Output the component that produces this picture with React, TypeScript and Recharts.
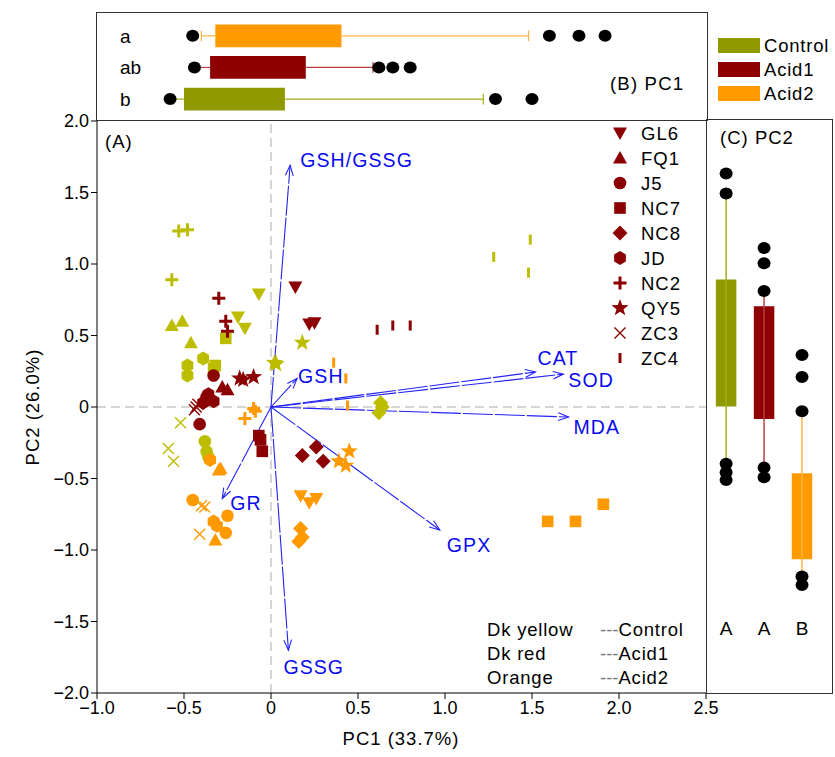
import React from 'react';
import { ScatterChart, Scatter, XAxis, YAxis, ReferenceLine, ReferenceArea } from 'recharts';

const FONT = "'Liberation Sans', Arial, sans-serif";
const BLUE = '#2323F5';

// ---------- groups ----------
const groups = ['Control', 'Acid1', 'Acid2'];
const groupNames = ['Dk yellow', 'Dk red', 'Orange'];
const pointColors = ['#BDBD00', '#8B0000', '#FF9900'];
const boxColors = ['#8E9A00', '#900000', '#FF9A00'];
const whiskerColors = ['#A5AC10', '#B84040', '#FFB440'];

// ---------- genotypes ----------
const genotypes = ['GL6', 'FQ1', 'J5', 'NC7', 'NC8', 'JD', 'NC2', 'QY5', 'ZC3', 'ZC4'];
const markerKinds = ['triDown', 'triUp', 'circle', 'square', 'diamond', 'hexagon', 'plus', 'star', 'cross', 'bar'];

// PC scores [PC1, PC2]; per genotype: [Control reps, Acid1 reps, Acid2 reps]
const GL6 = [
  [[-0.07, 0.79], [-0.19, 0.63], [-0.15, 0.55]],
  [[0.14, 0.84], [0.22, 0.58], [0.25, 0.59]],
  [[0.17, -0.62], [0.22, -0.67], [0.26, -0.64]],
];
const FQ1 = [
  [[-0.57, 0.57], [-0.51, 0.6], [-0.46, 0.45]],
  [[-0.28, 0.14], [-0.25, 0.12], [-0.34, 0.05]],
  [[-0.29, -0.43], [-0.32, -0.93], [-0.3, -0.44]],
];
const J5 = [
  [[-0.38, -0.24], [-0.37, -0.31], [-0.36, -0.35]],
  [[-0.33, 0.22], [-0.41, -0.12], [-0.37, 0.07]],
  [[-0.45, -0.65], [-0.25, -0.76], [-0.26, -0.88]],
];
const NC7 = [
  [[-0.26, 0.48], [-0.32, 0.29], [-0.33, 0.27]],
  [[-0.07, -0.2], [-0.06, -0.23], [-0.05, -0.31]],
  [[1.59, -0.8], [1.75, -0.8], [1.91, -0.68]],
];
const NC8 = [
  [[0.63, 0.03], [0.64, 0.0], [0.62, -0.04]],
  [[0.18, -0.34], [0.26, -0.28], [0.3, -0.38]],
  [[0.17, -0.85], [0.18, -0.91], [0.16, -0.94]],
];
const JD = [
  [[-0.39, 0.34], [-0.48, 0.29], [-0.48, 0.22]],
  [[-0.36, 0.09], [-0.33, 0.04], [-0.39, 0.03]],
  [[-0.35, -0.37], [-0.33, -0.8], [-0.31, -0.83]],
];
const NC2 = [
  [[-0.53, 1.23], [-0.48, 1.24], [-0.57, 0.89]],
  [[-0.3, 0.76], [-0.26, 0.6], [-0.25, 0.53]],
  [[-0.15, -0.08], [-0.1, -0.01], [-0.09, -0.03]],
];
const QY5 = [
  [[0.18, 0.45], [0.02, 0.31], [0.03, 0.3]],
  [[-0.18, 0.2], [-0.1, 0.21], [-0.16, 0.19]],
  [[0.45, -0.31], [0.39, -0.38], [0.43, -0.41]],
];
const ZC3 = [
  [[-0.52, -0.11], [-0.59, -0.29], [-0.56, -0.38]],
  [[-0.44, -0.02], [-0.42, 0.02], [-0.43, 0.0]],
  [[-0.4, -0.69], [-0.38, -0.7], [-0.41, -0.89]],
];
const ZC4 = [
  [[1.49, 1.17], [1.28, 1.05], [1.48, 0.94]],
  [[0.61, 0.54], [0.7, 0.57], [0.8, 0.57]],
  [[0.36, 0.31], [0.43, 0.2], [0.44, 0.01]],
];
const scores = [GL6, FQ1, J5, NC7, NC8, JD, NC2, QY5, ZC3, ZC4];

// ---------- loadings (arrows) ----------
const loadNames = ['GSH/GSSG', 'GSH', 'CAT', 'SOD', 'MDA', 'GPX', 'GR', 'GSSG'];
const loadPC1 = [0.11, 0.15, 1.52, 1.68, 1.71, 0.97, -0.28, 0.1];
const loadPC2 = [1.69, 0.2, 0.245, 0.23, -0.07, -0.86, -0.64, -1.7];
// label offsets in px from arrow tip (style)
const loadLabelOffset: Record<string, [number, number]> = {
  'GSH/GSSG': [10, -5], GSH: [1, -2], CAT: [2, -14], SOD: [5, 6],
  MDA: [5, 10], GPX: [7, 15], GR: [8, 4], GSSG: [-5, 17],
};

// ---------- axes ----------
const xTicks = [-1, -0.5, 0, 0.5, 1, 1.5, 2, 2.5];
const xTickLabels = ['−1.0', '−0.5', '0', '0.5', '1.0', '1.5', '2.0', '2.5'];
const yTicks = [-2, -1.5, -1, -0.5, 0, 0.5, 1, 1.5, 2];
const yTickLabels = ['−2.0', '−1.5', '−1.0', '−0.5', '0', '0.5', '1.0', '1.5', '2.0'];

// ---------- PC1 boxplot (rows: Control=1, Acid1=2, Acid2=3) ----------
const pc1Low = [-0.56, -0.425, -0.4];
const pc1Q1 = [-0.5, -0.35, -0.32];
const pc1Q3 = [0.08, 0.2, 0.405];
const pc1High = [1.22, 0.586, 1.48];
const pc1Outliers = [[-0.58, 1.29, 1.5], [-0.44, 0.62, 0.7, 0.8], [-0.45, 1.6, 1.77, 1.92]];
const pc1Letters = ['b', 'ab', 'a'];

// ---------- PC2 boxplot (columns: Control=1, Acid1=2, Acid2=3) ----------
const pc2Low = [-0.6, -0.62, -1.78];
const pc2Q1 = [0.0, -0.13, -1.6];
const pc2Q3 = [1.33, 1.05, -0.7];
const pc2High = [2.23, 1.21, -0.05];
const pc2Outliers = [[2.44, 2.23, -0.6, -0.69, -0.77], [1.66, 1.5, 1.21, -0.64, -0.74], [0.54, 0.31, -0.05, -1.78, -1.87]];
const pc2Letters = ['A', 'A', 'B'];

function Marker({ kind, cx, cy, color }: { kind: string; cx: number; cy: number; color: string }) {
  switch (kind) {
    case 'triDown':
      return <polygon points={`${cx - 7},${cy - 5.5} ${cx + 7},${cy - 5.5} ${cx},${cy + 7}`} fill={color} />;
    case 'triUp':
      return <polygon points={`${cx - 7},${cy + 5.5} ${cx + 7},${cy + 5.5} ${cx},${cy - 7}`} fill={color} />;
    case 'circle':
      return <circle cx={cx} cy={cy} r={6.3} fill={color} />;
    case 'square':
      return <rect x={cx - 5.8} y={cy - 5.8} width={11.6} height={11.6} fill={color} />;
    case 'diamond':
      return <polygon points={`${cx},${cy - 7.5} ${cx + 7.5},${cy} ${cx},${cy + 7.5} ${cx - 7.5},${cy}`} fill={color} />;
    case 'hexagon': {
      const pts = [0, 1, 2, 3, 4, 5]
        .map((k) => {
          const a = (Math.PI / 180) * (-90 + 60 * k);
          return `${cx + 6.8 * Math.cos(a)},${cy + 7 * Math.sin(a)}`;
        })
        .join(' ');
      return <polygon points={pts} fill={color} />;
    }
    case 'plus':
      return <path d={`M${cx - 6.5},${cy}H${cx + 6.5}M${cx},${cy - 6.5}V${cy + 6.5}`} stroke={color} strokeWidth={3} fill="none" />;
    case 'star': {
      const pts = Array.from({ length: 10 })
        .map((_, k) => {
          const r = k % 2 === 0 ? 9 : 3.7;
          const a = (Math.PI / 180) * (-90 + 36 * k);
          return `${cx + r * Math.cos(a)},${cy + r * Math.sin(a)}`;
        })
        .join(' ');
      return <polygon points={pts} fill={color} />;
    }
    case 'cross':
      return <path d={`M${cx - 5.5},${cy - 5.5}L${cx + 5.5},${cy + 5.5}M${cx + 5.5},${cy - 5.5}L${cx - 5.5},${cy + 5.5}`} stroke={color} strokeWidth={1.4} fill="none" />;
    case 'bar':
      return <rect x={cx - 1.5} y={cy - 5} width={3} height={10} fill={color} />;
    default:
      return <circle cx={cx} cy={cy} r={5} fill={color} />;
  }
}

const arrowShape = (name: string) => (p: any) => {
  const { x1, y1, x2, y2 } = p;
  const ang = Math.atan2(y2 - y1, x2 - x1);
  const L = 11;
  const a = 0.36;
  const h1x = x2 - L * Math.cos(ang - a);
  const h1y = y2 - L * Math.sin(ang - a);
  const h2x = x2 - L * Math.cos(ang + a);
  const h2y = y2 - L * Math.sin(ang + a);
  const [dx, dy] = loadLabelOffset[name];
  return (
    <g>
      <line x1={x1} y1={y1} x2={x2} y2={y2} stroke={BLUE} strokeWidth={1.1} strokeDasharray="30 2" />
      <polyline points={`${h1x},${h1y} ${x2},${y2} ${h2x},${h2y}`} fill="none" stroke={BLUE} strokeWidth={1.1} />
      <text x={x2 + dx} y={y2 + dy} fill="#0A0AF0" fontSize={19.5} fontFamily={FONT} letterSpacing={1.1} dominantBaseline="central">
        {name}
      </text>
    </g>
  );
};

const dot = (p: any) => <ellipse cx={p.cx} cy={p.cy} rx={6.5} ry={6} fill="#000" />;

const absStyle: React.CSSProperties = { position: 'absolute', left: 0, top: 0 };

export default function App() {
  return (
    <div style={{ position: 'absolute', left: 0, top: 0, width: 835, height: 757, background: '#fff', fontFamily: FONT }}>
      {/* ---------- main PCA biplot ---------- */}
      <div style={absStyle}>
        <ScatterChart width={835} height={757} margin={{ top: 121, right: 129, bottom: 24, left: 37 }}>
          <XAxis
            type="number"
            dataKey="x"
            domain={[-1, 2.5]}
            ticks={xTicks}
            tickFormatter={(v: number) => xTickLabels[xTicks.indexOf(v)]}
            height={40}
            stroke="#000"
            tickSize={6}
            tick={{ fill: '#000', fontSize: 18, fontFamily: FONT }}
            allowDataOverflow
          />
          <XAxis
            xAxisId="top"
            orientation="top"
            type="number"
            dataKey="x"
            domain={[-1, 2.5]}
            ticks={xTicks}
            mirror
            tick={false}
            axisLine={false}
            tickSize={5}
            stroke="#333"
            allowDataOverflow
          />
          <YAxis
            type="number"
            dataKey="y"
            domain={[-2, 2]}
            ticks={yTicks}
            tickFormatter={(v: number) => yTickLabels[yTicks.indexOf(v)]}
            width={60}
            stroke="#000"
            tickSize={6}
            tick={{ fill: '#000', fontSize: 18, fontFamily: FONT }}
            allowDataOverflow
          />
          <ReferenceLine x={0} stroke="#C8C8C8" strokeWidth={1.5} strokeDasharray="9 5" />
          <ReferenceLine y={0} stroke="#C8C8C8" strokeWidth={1.5} strokeDasharray="9 5" />
          {loadNames.map((n, i) => (
            <ReferenceLine
              key={n}
              segment={[{ x: 0, y: 0 }, { x: loadPC1[i], y: loadPC2[i] }]}
              shape={arrowShape(n)}
              ifOverflow="visible"
            />
          ))}
          {groups.map((g, gi) =>
            genotypes.map((gen, ki) => (
              <Scatter
                key={`${g}-${gen}`}
                name={`${g} ${gen}`}
                data={scores[ki][gi].map(([x, y]) => ({ x, y }))}
                isAnimationActive={false}
                shape={(p: any) => <Marker kind={markerKinds[ki]} cx={p.cx} cy={p.cy} color={pointColors[gi]} />}
              />
            ))
          )}
        </ScatterChart>
      </div>

      {/* ---------- (B) PC1 boxplot ---------- */}
      <div style={absStyle}>
        <ScatterChart width={835} height={125} margin={{ top: 13, right: 129, bottom: 5, left: 97 }}>
          <XAxis type="number" dataKey="x" domain={[-1, 2.5]} hide allowDataOverflow />
          <YAxis
            type="number"
            dataKey="y"
            domain={[0.34, 3.72]}
            ticks={[1, 2, 3]}
            tickFormatter={(v: number) => pc1Letters[v - 1]}
            mirror
            axisLine={false}
            tickLine={false}
            tickSize={0}
            tickMargin={23}
            tick={{ fill: '#000', fontSize: 19, fontFamily: FONT }}
          />
          {groups.map((g, i) => (
            <ReferenceLine key={`wl${g}`} segment={[{ x: pc1Low[i], y: i + 1 }, { x: pc1Q1[i], y: i + 1 }]} stroke={whiskerColors[i]} strokeWidth={1.2} ifOverflow="visible" />
          ))}
          {groups.map((g, i) => (
            <ReferenceLine key={`wh${g}`} segment={[{ x: pc1Q3[i], y: i + 1 }, { x: pc1High[i], y: i + 1 }]} stroke={whiskerColors[i]} strokeWidth={1.2} ifOverflow="visible" />
          ))}
          {groups.map((g, i) => (
            <ReferenceLine key={`cl${g}`} segment={[{ x: pc1Low[i], y: i + 1 - 0.17 }, { x: pc1Low[i], y: i + 1 + 0.17 }]} stroke={whiskerColors[i]} strokeWidth={1.2} ifOverflow="visible" />
          ))}
          {groups.map((g, i) => (
            <ReferenceLine key={`ch${g}`} segment={[{ x: pc1High[i], y: i + 1 - 0.17 }, { x: pc1High[i], y: i + 1 + 0.17 }]} stroke={whiskerColors[i]} strokeWidth={1.2} ifOverflow="visible" />
          ))}
          {groups.map((g, i) => (
            <ReferenceArea key={`b${g}`} x1={pc1Q1[i]} x2={pc1Q3[i]} y1={i + 1 - 0.36} y2={i + 1 + 0.36} fill={boxColors[i]} fillOpacity={1} stroke="none" ifOverflow="visible" />
          ))}
          {groups.map((g, i) => (
            <Scatter key={`o${g}`} data={pc1Outliers[i].map((x) => ({ x, y: i + 1 }))} shape={dot} isAnimationActive={false} />
          ))}
        </ScatterChart>
      </div>

      {/* ---------- (C) PC2 boxplot ---------- */}
      <div style={absStyle}>
        <ScatterChart width={835} height={757} margin={{ top: 120, right: 3, bottom: 64, left: 705 }}>
          <XAxis
            type="number"
            dataKey="x"
            domain={[0.47, 3.79]}
            ticks={[1, 2, 3]}
            tickFormatter={(v: number) => pc2Letters[v - 1]}
            mirror
            axisLine={false}
            tickLine={false}
            tickSize={0}
            tickMargin={58}
            tick={{ fill: '#000', fontSize: 19, fontFamily: FONT }}
            allowDataOverflow
          />
          <YAxis
            type="number"
            dataKey="y"
            domain={[-3, 3]}
            ticks={[-2, -1, 0, 1, 2]}
            width={1}
            tick={false}
            axisLine={false}
            tickSize={5}
            stroke="#333"
            allowDataOverflow
          />
          {groups.map((g, i) => (
            <ReferenceLine key={`vl${g}`} segment={[{ x: i + 1, y: pc2Low[i] }, { x: i + 1, y: pc2High[i] }]} stroke={whiskerColors[i]} strokeWidth={1.5} ifOverflow="visible" />
          ))}
          {groups.map((g, i) => (
            <ReferenceLine key={`cl2${g}`} segment={[{ x: i + 1 - 0.14, y: pc2Low[i] }, { x: i + 1 + 0.14, y: pc2Low[i] }]} stroke={whiskerColors[i]} strokeWidth={1.5} ifOverflow="visible" />
          ))}
          {groups.map((g, i) => (
            <ReferenceLine key={`ch2${g}`} segment={[{ x: i + 1 - 0.14, y: pc2High[i] }, { x: i + 1 + 0.14, y: pc2High[i] }]} stroke={whiskerColors[i]} strokeWidth={1.5} ifOverflow="visible" />
          ))}
          {groups.map((g, i) => (
            <ReferenceArea key={`b2${g}`} x1={i + 1 - 0.27} x2={i + 1 + 0.27} y1={pc2Q1[i]} y2={pc2Q3[i]} fill={boxColors[i]} fillOpacity={1} stroke="none" ifOverflow="visible" />
          ))}
          {groups.map((g, i) => (
            <Scatter key={`o2${g}`} data={pc2Outliers[i].map((y) => ({ x: i + 1, y }))} shape={dot} isAnimationActive={false} />
          ))}
        </ScatterChart>
      </div>

      {/* ---------- frames ---------- */}
      <div style={{ position: 'absolute', left: 96, top: 12, width: 612, height: 109, border: '1.5px solid #333', boxSizing: 'border-box' }} />
      <div style={{ position: 'absolute', left: 706, top: 119, width: 127, height: 575, border: '1.5px solid #333', boxSizing: 'border-box' }} />

      {/* ---------- texts & legends ---------- */}
      <svg width={835} height={757} style={absStyle}>
        <text x={105} y={141} fontSize={18.5} fontFamily={FONT} letterSpacing={1} dominantBaseline="central">(A)</text>
        <text x={610} y={83} fontSize={18.5} fontFamily={FONT} letterSpacing={1.2} dominantBaseline="central">(B) PC1</text>
        <text x={757} y={137} fontSize={18.5} fontFamily={FONT} letterSpacing={1} textAnchor="middle" dominantBaseline="central">(C) PC2</text>
        <text x={401} y={738} fontSize={18.5} fontFamily={FONT} letterSpacing={1} textAnchor="middle" dominantBaseline="central">PC1 (33.7%)</text>
        <text x={32} y={407} fontSize={18.5} fontFamily={FONT} letterSpacing={1} textAnchor="middle" dominantBaseline="central" transform="rotate(-90 32 407)">PC2 (26.0%)</text>

        {groups.map((g, i) => (
          <g key={`lg${g}`}>
            <rect x={718} y={38 + 24 * i} width={42} height={15} fill={boxColors[i]} />
            <text x={764} y={45.5 + 24 * i} fontSize={18.5} fontFamily={FONT} letterSpacing={0.8} dominantBaseline="central">{g}</text>
          </g>
        ))}

        {genotypes.map((gen, k) => (
          <g key={`sl${gen}`}>
            <Marker kind={markerKinds[k]} cx={620} cy={133 + 25 * k} color={pointColors[1]} />
            <text x={641} y={133 + 25 * k} fontSize={18.5} fontFamily={FONT} letterSpacing={1} dominantBaseline="central">{gen}</text>
          </g>
        ))}

        {groups.map((g, i) => (
          <g key={`tb${g}`}>
            <text x={487} y={629 + 24 * i} fontSize={18.5} fontFamily={FONT} letterSpacing={0.8} dominantBaseline="central">{groupNames[i]}</text>
            <text x={600} y={629 + 24 * i} fontSize={18.5} fontFamily={FONT} dominantBaseline="central">
              <tspan fill="#777">---</tspan>
              <tspan fill="#000" letterSpacing={0.8}>{g}</tspan>
            </text>
          </g>
        ))}
      </svg>
    </div>
  );
}
